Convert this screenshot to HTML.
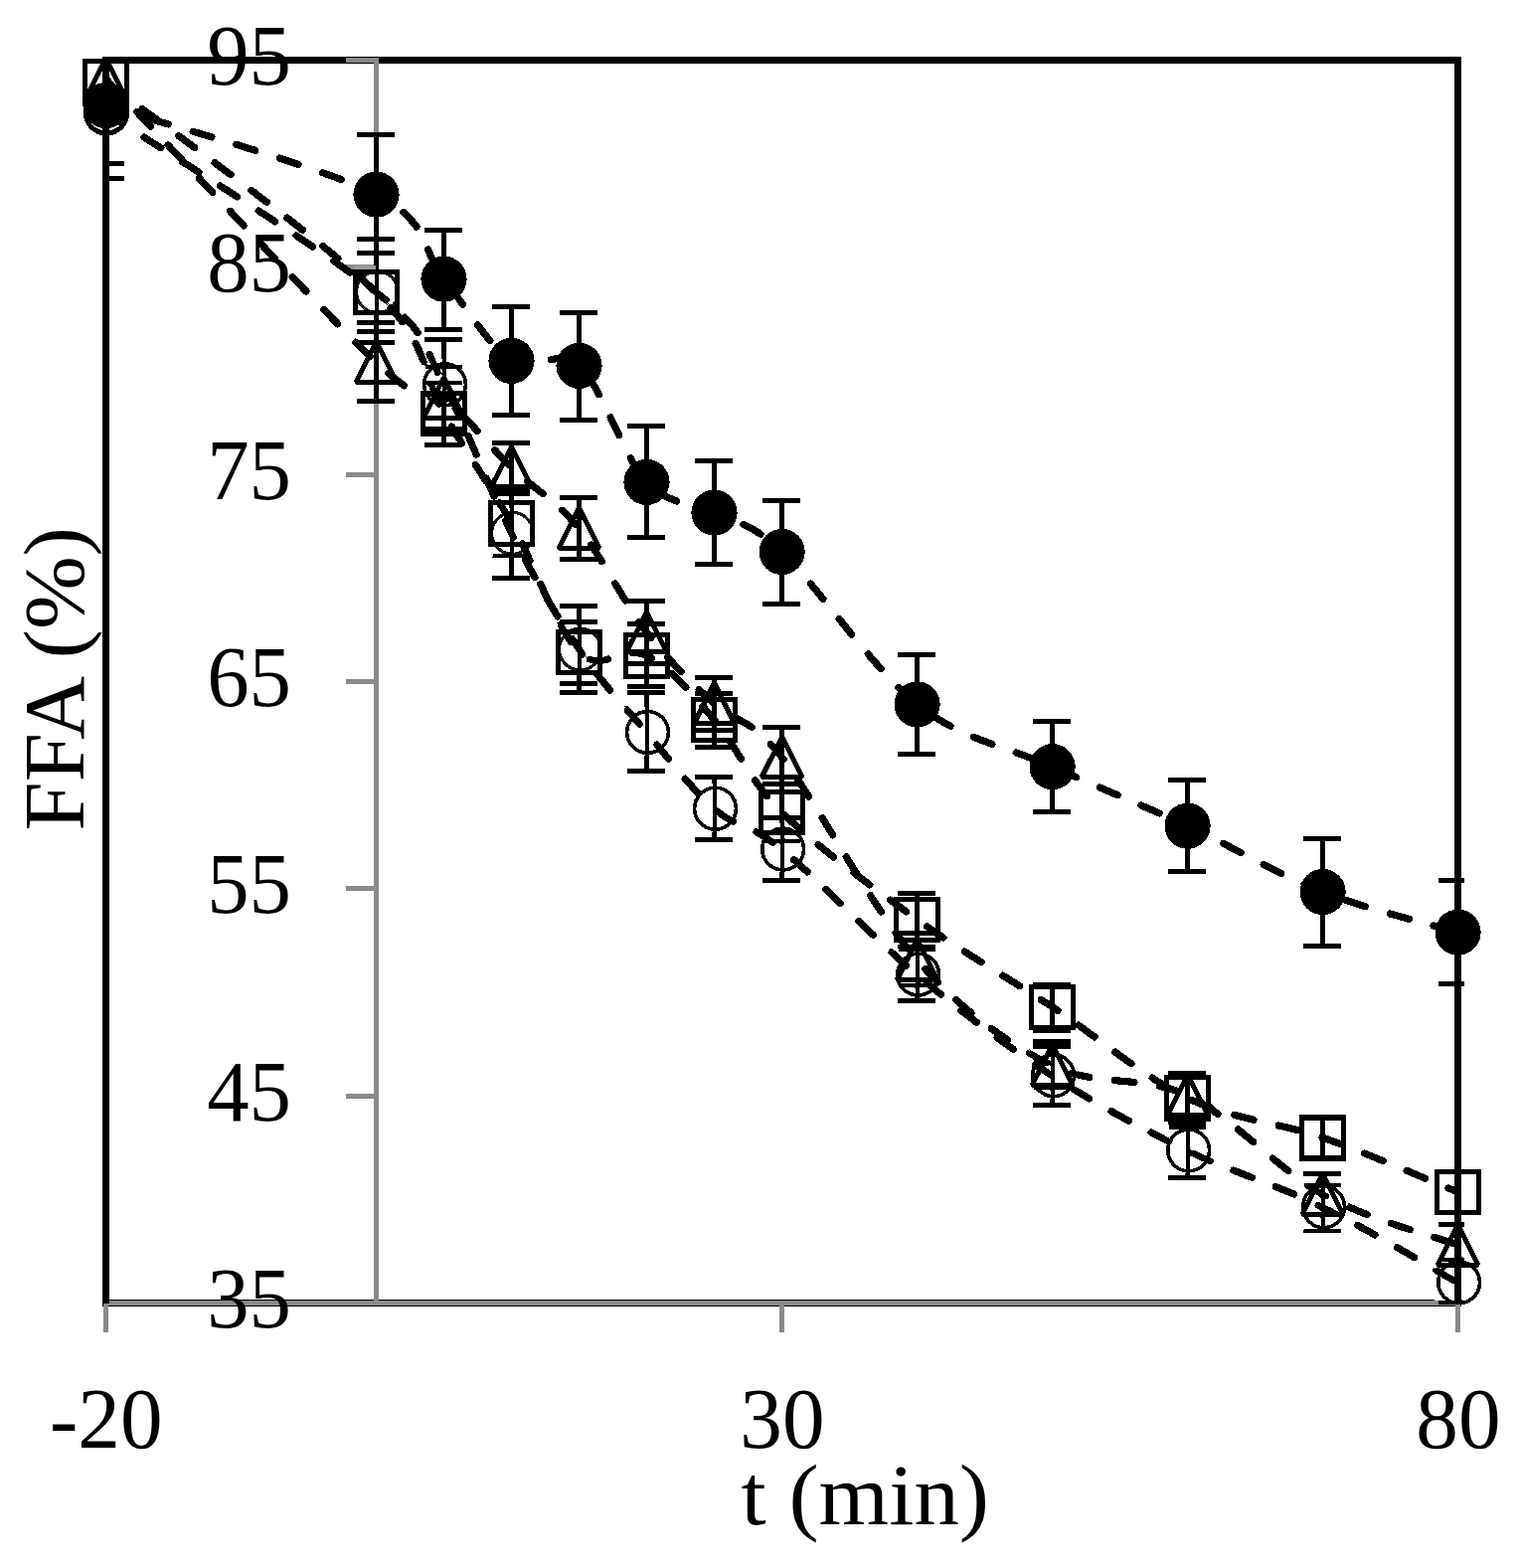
<!DOCTYPE html>
<html lang="en"><head><meta charset="utf-8"><title>FFA (%) vs t (min)</title>
<style>
html,body{margin:0;padding:0;background:#fff;}
body{width:1528px;height:1577px;overflow:hidden;}
svg{display:block;shape-rendering:crispEdges;}
text{font-family:"Liberation Serif","DejaVu Serif",serif;fill:#000;}
.eb{stroke:#000;stroke-width:5;fill:none;stroke-linecap:butt;}
.ln{stroke:#000;stroke-width:7.2;fill:none;stroke-linecap:round;stroke-linejoin:round;stroke-dasharray:19.8 25.75;}
.mk{stroke:#000;stroke-width:5;fill:none;stroke-linejoin:miter;}
.oc{stroke:#000;stroke-width:3.6;fill:none;}
.gx{stroke:#8a8a8a;fill:none;}
</style></head><body>
<svg width="1528" height="1577" viewBox="0 0 1528 1577" role="img" aria-label="FFA (%) versus t (min)">
<defs>
<clipPath id="cp"><rect x="104" y="0" width="1369" height="1577"/></clipPath>
<clipPath id="ob"><rect x="83" y="87" width="49" height="49"/><rect x="355" y="268" width="49" height="49"/><rect x="423" y="361" width="49" height="49"/><rect x="491" y="511" width="49" height="49"/><rect x="559" y="627" width="49" height="49"/><rect x="627" y="711" width="49" height="49"/><rect x="695" y="788" width="49" height="49"/><rect x="763" y="828" width="49" height="49"/><rect x="899" y="954" width="49" height="49"/><rect x="1035" y="1056" width="49" height="49"/><rect x="1171" y="1131" width="49" height="49"/><rect x="1307" y="1188" width="49" height="49"/><rect x="1443" y="1264" width="49" height="49"/></clipPath>
<filter id="er" filterUnits="userSpaceOnUse" x="0" y="0" width="1528" height="1577"><feOffset dx="1.3" dy="1.3" result="o"/><feComposite in="SourceGraphic" in2="o" operator="in"/><feGaussianBlur stdDeviation="0.35"/></filter>
<filter id="bl" x="-20%" y="-20%" width="140%" height="140%"><feGaussianBlur stdDeviation="0.5"/></filter>
</defs>
<rect x="0" y="0" width="1528" height="1577" fill="#fff"/>
<g id="under">
<rect x="106.5" y="60.5" width="1360.1" height="1250.0" fill="none" stroke="#000" stroke-width="7"/>
<g class="gx">
<line x1="378.45" y1="58.2" x2="378.45" y2="1310.5" stroke-width="4.8"/>
<line x1="348.1" y1="60.6" x2="380.8" y2="60.6" stroke-width="4.7"/>
<line x1="348.1" y1="268.8" x2="378.4" y2="268.8" stroke-width="4.7"/>
<line x1="348.1" y1="477.2" x2="378.4" y2="477.2" stroke-width="4.7"/>
<line x1="348.1" y1="685.5" x2="378.4" y2="685.5" stroke-width="4.7"/>
<line x1="348.1" y1="893.8" x2="378.4" y2="893.8" stroke-width="4.7"/>
<line x1="348.1" y1="1102.2" x2="378.4" y2="1102.2" stroke-width="4.7"/>
<line x1="348.1" y1="1310.5" x2="378.4" y2="1310.5" stroke-width="4.7"/>
<line x1="104.1" y1="1310.5" x2="1466.6" y2="1310.5" stroke-width="5"/>
<line x1="106.5" y1="1310.5" x2="106.5" y2="1339.7" stroke-width="4.8"/>
<line x1="786.5" y1="1310.5" x2="786.5" y2="1339.7" stroke-width="4.8"/>
<line x1="1466.4" y1="1310.5" x2="1466.4" y2="1339.7" stroke-width="4.8"/>
</g>
<path class="eb" clip-path="url(#cp)" d="M106.5 106.1V164.6M87.0 164.6H125.1M378.5 135.5V254.6M359.0 135.5H397.1M359.0 254.6H397.1M446.5 231.4V331.5M427.0 231.4H465.1M427.0 331.5H465.1M514.5 308.4V417.2M495.0 308.4H533.1M495.0 417.2H533.1M582.5 314.3V422.3M563.0 314.3H601.1M563.0 422.3H601.1M650.5 428.3V540.4M631.0 428.3H669.1M631.0 540.4H669.1M718.5 463.5V567.4M699.0 463.5H737.1M699.0 567.4H737.1M786.6 503.6V607.5M767.1 503.6H805.2M767.1 607.5H805.2M922.6 658.5V758.2M903.1 658.5H941.2M903.1 758.2H941.2M1058.6 725.5V816.3M1039.1 725.5H1077.2M1039.1 816.3H1077.2M1194.6 784.4V876.0M1175.1 784.4H1213.2M1175.1 876.0H1213.2M1330.6 843.4V951.4M1311.1 843.4H1349.2M1311.1 951.4H1349.2M1466.6 885.3V989.3M1447.1 885.3H1485.2M1447.1 989.3H1485.2"/>
<path class="eb" clip-path="url(#cp)" d="M106.5 81.9V81.9M378.5 254.6V333.5M359.0 254.6H397.1M359.0 333.5H397.1M446.5 384.1V447.7M427.0 384.1H465.1M427.0 447.7H465.1M514.5 496.0V558.8M495.0 496.0H533.1M495.0 558.8H533.1M582.5 625.3V687.6M563.0 625.3H601.1M563.0 687.6H601.1M650.5 627.4V690.9M631.0 627.4H669.1M631.0 690.9H669.1M718.5 697.4V751.4M699.0 697.4H737.1M699.0 751.4H737.1M786.6 788.5V845.7M767.1 788.5H805.2M767.1 845.7H805.2M922.6 898.2V952.4M903.1 898.2H941.2M903.1 952.4H941.2M1058.6 990.2V1036.4M1039.1 990.2H1077.2M1039.1 1036.4H1077.2M1194.6 1079.9V1129.6M1175.1 1079.9H1213.2M1175.1 1129.6H1213.2M1330.6 1124.0V1164.5M1311.1 1124.0H1349.2M1311.1 1164.5H1349.2M1466.6 1178.6V1219.2M1447.1 1178.6H1485.2M1447.1 1219.2H1485.2"/>
<path class="eb" clip-path="url(#cp)" d="M106.5 79.4V79.4M378.5 324.2V403.4M359.0 324.2H397.1M359.0 403.4H397.1M446.5 368.5V432.5M427.0 368.5H465.1M427.0 432.5H465.1M514.5 445.6V495.6M495.0 445.6H533.1M495.0 495.6H533.1M582.5 500.5V562.3M563.0 500.5H601.1M563.0 562.3H601.1M650.5 604.5V667.5M631.0 604.5H669.1M631.0 667.5H669.1M718.5 681.4V734.2M699.0 681.4H737.1M699.0 734.2H737.1M786.6 731.4V788.5M767.1 731.4H805.2M767.1 788.5H805.2M922.6 938.0V990.0M903.1 938.0H941.2M903.1 990.0H941.2M1058.6 1047.6V1093.0M1039.1 1047.6H1077.2M1039.1 1093.0H1077.2M1194.6 1081.0V1122.0M1175.1 1081.0H1213.2M1175.1 1122.0H1213.2M1330.6 1180.5V1221.0M1311.1 1180.5H1349.2M1311.1 1221.0H1349.2M1466.6 1231.7V1272.0M1447.1 1231.7H1485.2M1447.1 1272.0H1485.2"/>
<path class="eb" clip-path="url(#cp)" d="M106.5 113.2V179.6M87.0 179.6H125.1M378.5 240.4V344.2M359.0 240.4H397.1M359.0 344.2H397.1M446.5 341.9V431.3M427.0 341.9H465.1M427.0 431.3H465.1M514.5 492.0V581.4M495.0 492.0H533.1M495.0 581.4H533.1M582.5 609.5V696.1M563.0 609.5H601.1M563.0 696.1H601.1M650.5 696.7V775.6M631.0 696.7H669.1M631.0 775.6H669.1M718.5 781.5V844.9M699.0 781.5H737.1M699.0 844.9H737.1M786.6 822.8V885.5M767.1 822.8H805.2M767.1 885.5H805.2M922.6 954.0V1006.5M903.1 954.0H941.2M903.1 1006.5H941.2M1058.6 1052.5V1111.5M1039.1 1052.5H1077.2M1039.1 1111.5H1077.2M1194.6 1133.0V1184.6M1175.1 1133.0H1213.2M1175.1 1184.6H1213.2M1330.6 1191.2V1237.8M1311.1 1191.2H1349.2M1311.1 1237.8H1349.2M1466.6 1266.0V1309.5M1447.1 1266.0H1485.2M1447.1 1309.5H1485.2"/>
<path class="ln" stroke-dashoffset="-0.4" d="M106.5 106.1C151.8 121.0 321.8 166.6 378.5 195.7C435.2 224.8 423.8 252.8 446.5 280.7C469.2 308.6 491.8 348.4 514.5 362.9C537.2 377.4 559.8 347.5 582.5 367.8C605.2 388.1 627.8 460.3 650.5 484.9C673.2 509.5 695.8 503.9 718.5 515.6C741.2 527.3 752.6 522.9 786.6 555.0C820.6 587.1 877.3 672.4 922.6 708.4C967.9 744.4 1013.3 750.8 1058.6 771.2C1103.9 791.6 1149.3 809.7 1194.6 830.7C1239.9 851.7 1285.3 879.2 1330.6 897.0C1375.9 914.8 1443.9 930.9 1466.6 937.7"/>
<path class="ln" stroke-dashoffset="-0.4" d="M106.5 81.9C151.8 117.3 321.8 238.4 378.5 294.1C435.2 349.8 423.8 377.4 446.5 416.1C469.2 454.8 491.8 486.4 514.5 526.4C537.2 566.4 559.8 633.9 582.5 656.0C605.2 678.1 627.8 647.9 650.5 659.2C673.2 670.5 695.8 697.7 718.5 724.0C741.2 750.3 752.6 783.6 786.6 817.1C820.6 850.6 877.3 892.2 922.6 924.8C967.9 957.4 1013.3 982.9 1058.6 1012.8C1103.9 1042.7 1149.3 1082.5 1194.6 1104.4C1239.9 1126.3 1285.3 1128.5 1330.6 1144.2C1375.9 1160.0 1443.9 1189.8 1466.6 1198.9"/>
<path class="ln" stroke-dashoffset="-0.4" d="M106.5 79.4C151.8 126.9 321.8 310.8 378.5 364.3C435.2 417.9 423.8 383.1 446.5 400.7C469.2 418.3 491.8 448.2 514.5 470.0C537.2 491.8 559.8 504.0 582.5 531.6C605.2 559.2 627.8 606.5 650.5 635.9C673.2 665.3 695.8 686.8 718.5 707.8C741.2 728.8 752.6 718.7 786.6 761.7C820.6 804.7 877.3 914.0 922.6 965.6C967.9 1017.2 1013.3 1048.9 1058.6 1071.6C1103.9 1094.3 1149.3 1080.2 1194.6 1101.8C1239.9 1123.4 1285.3 1176.1 1330.6 1201.2C1375.9 1226.3 1443.9 1243.7 1466.6 1252.2"/>
<path class="ln" stroke-dashoffset="-0.4" d="M106.5 113.2C151.8 143.3 321.8 248.3 378.5 293.9C435.2 339.5 423.8 346.5 446.5 387.0C469.2 427.5 491.8 492.3 514.5 536.7C537.2 581.1 559.8 620.0 582.5 653.3C605.2 686.6 627.8 710.0 650.5 736.7C673.2 763.4 695.8 793.9 718.5 813.5C741.2 833.1 752.6 826.5 786.6 854.3C820.6 882.1 877.3 942.4 922.6 980.4C967.9 1018.4 1013.3 1052.5 1058.6 1082.0C1103.9 1111.5 1149.3 1135.2 1194.6 1157.2C1239.9 1179.2 1285.3 1191.9 1330.6 1214.1C1375.9 1236.2 1443.9 1277.4 1466.6 1290.1"/>
<line x1="356" y1="268.8" x2="378.4" y2="268.8" stroke="#9a9a9a" stroke-width="4"/>
</g>
<g clip-path="url(#ob)"><rect x="0" y="0" width="1528" height="1577" fill="#fff"/><use href="#under" filter="url(#er)"/></g>
<path d="M106.5 60.5V1310.5M1466.6 60.5V1310.5" fill="none" stroke="#000" stroke-width="7"/>
<g class="mk"><rect x="85.8" y="61.2" width="41.5" height="41.5"/><rect x="357.8" y="273.4" width="41.5" height="41.5"/><rect x="425.8" y="395.4" width="41.5" height="41.5"/><rect x="493.8" y="505.6" width="41.5" height="41.5"/><rect x="561.8" y="635.2" width="41.5" height="41.5"/><rect x="629.8" y="638.5" width="41.5" height="41.5"/><rect x="697.8" y="703.2" width="41.5" height="41.5"/><rect x="765.9" y="796.4" width="41.5" height="41.5"/><rect x="901.9" y="904.0" width="41.5" height="41.5"/><rect x="1037.8" y="992.0" width="41.5" height="41.5"/><rect x="1173.8" y="1083.7" width="41.5" height="41.5"/><rect x="1309.8" y="1123.5" width="41.5" height="41.5"/><rect x="1445.8" y="1178.2" width="41.5" height="41.5"/></g>
<g class="mk" stroke-linejoin="bevel" style="stroke-linejoin:bevel"><path d="M106.5 58.7L126.9 99.4H86.1Z"/><path d="M378.5 343.6L398.9 384.2H358.1Z"/><path d="M446.5 380.0L466.9 420.6H426.1Z"/><path d="M514.5 449.3L534.9 489.9H494.1Z"/><path d="M582.5 510.9L602.9 551.6H562.1Z"/><path d="M650.5 615.2L670.9 655.9H630.1Z"/><path d="M718.5 687.1L738.9 727.8H698.1Z"/><path d="M786.6 741.0L807.0 781.7H766.2Z"/><path d="M922.6 944.9L943.0 985.6H902.2Z"/><path d="M1058.6 1050.9L1079.0 1091.5H1038.2Z"/><path d="M1194.6 1081.1L1215.0 1121.8H1174.2Z"/><path d="M1330.6 1180.5L1351.0 1221.2H1310.2Z"/><path d="M1466.6 1231.5L1487.0 1272.2H1446.2Z"/></g>
<g fill="#000"><circle cx="106.5" cy="106.1" r="23.1"/><circle cx="378.5" cy="195.7" r="23.1"/><circle cx="446.5" cy="280.7" r="23.1"/><circle cx="514.5" cy="362.9" r="23.1"/><circle cx="582.5" cy="367.8" r="23.1"/><circle cx="650.5" cy="484.9" r="23.1"/><circle cx="718.5" cy="515.6" r="23.1"/><circle cx="786.6" cy="555.0" r="23.1"/><circle cx="922.6" cy="708.4" r="23.1"/><circle cx="1058.6" cy="771.2" r="23.1"/><circle cx="1194.6" cy="830.7" r="23.1"/><circle cx="1330.6" cy="897.0" r="23.1"/><circle cx="1466.6" cy="937.7" r="23.1"/></g>
<g class="oc" filter="url(#bl)"><path fill="#000" stroke="none" fill-rule="evenodd" d="M83.6 113.2a23.4 23.4 0 1 0 46.8 0a23.4 23.4 0 1 0 -46.8 0zM87.6 112.1a19.4 19.4 0 1 0 38.8 0a19.4 19.4 0 1 0 -38.8 0z"/><circle cx="379.5" cy="293.6" r="20.9" stroke-width="3.2" stroke-opacity="0.9"/><circle cx="447.5" cy="386.7" r="20.9"/><circle cx="515.5" cy="536.4" r="20.9" stroke-width="3.2" stroke-opacity="0.9"/><circle cx="583.5" cy="653.0" r="20.9" stroke-width="3.2" stroke-opacity="0.9"/><circle cx="651.5" cy="736.4" r="20.9"/><circle cx="719.5" cy="813.2" r="20.9"/><circle cx="787.6" cy="854.0" r="20.9"/><circle cx="923.6" cy="980.1" r="20.9"/><circle cx="1059.6" cy="1081.7" r="20.9"/><circle cx="1195.6" cy="1156.9" r="20.9"/><circle cx="1331.6" cy="1213.8" r="20.9"/><circle cx="1467.6" cy="1289.8" r="20.9"/></g>
<text transform="translate(293.0 84.8) scale(0.975 0.985)" font-size="87" text-anchor="end">95</text>
<text transform="translate(293.0 293.1) scale(0.975 0.985)" font-size="87" text-anchor="end">85</text>
<text transform="translate(293.0 501.5) scale(0.975 0.985)" font-size="87" text-anchor="end">75</text>
<text transform="translate(293.0 709.8) scale(0.975 0.985)" font-size="87" text-anchor="end">65</text>
<text transform="translate(293.0 918.1) scale(0.975 0.985)" font-size="87" text-anchor="end">55</text>
<text transform="translate(293.0 1126.5) scale(0.975 0.985)" font-size="87" text-anchor="end">45</text>
<text transform="translate(293.0 1334.8) scale(0.975 0.985)" font-size="87" text-anchor="end">35</text>
<text transform="translate(106.8 1456.0) scale(0.98 1)" font-size="87" text-anchor="middle">-20</text>
<text transform="translate(786.9 1456.0) scale(0.98 1)" font-size="87" text-anchor="middle">30</text>
<text transform="translate(1466.9 1456.0) scale(0.98 1)" font-size="87" text-anchor="middle">80</text>
<text transform="translate(745.5 1532.5) scale(1.043 1)" font-size="87" text-anchor="start">t (min)</text>
<text transform="translate(83.8 835.5) rotate(-90) scale(1.017 1)" font-size="87" text-anchor="start">FFA (%)</text>
</svg></body></html>
